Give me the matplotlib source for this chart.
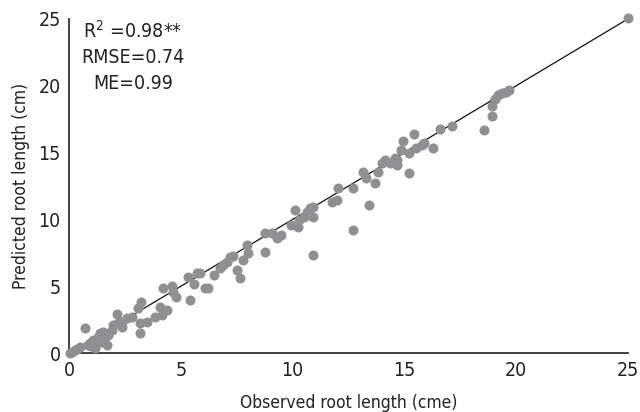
import matplotlib
matplotlib.use('Agg')
import matplotlib.pyplot as plt

observed = [0.05, 0.27, 0.5, 0.72, 0.94, 1.07, 1.16, 1.25, 1.3, 1.39, 1.48, 1.52, 1.6, 1.7,
            1.74, 1.92, 1.97, 2.15, 2.2, 2.37, 2.37, 2.6, 3.1, 3.17, 3.17, 3.2, 3.5, 3.85,
            4.07, 4.15, 4.2, 4.38, 4.6, 4.65, 4.8, 5.3, 5.4, 5.6, 5.7, 5.86, 6.1, 6.2, 6.5,
            6.75, 6.9, 7.05, 7.2, 7.35, 7.5, 7.65, 7.8, 7.95, 8.0, 8.75, 8.75, 9.08, 9.3,
            9.5, 9.95, 10.1, 10.25, 10.3, 10.5, 10.65, 10.8, 10.9, 10.9, 10.9, 11.75, 12.0,
            12.05, 12.7, 12.7, 13.15, 13.3, 13.4, 13.7, 13.8, 14.0, 14.15, 14.35, 14.6,
            14.65, 14.65, 14.85, 14.95, 15.2, 15.2, 15.45, 15.5, 15.8, 15.9, 16.3, 16.6,
            17.15, 18.55, 18.9, 18.9, 19.05, 19.2, 19.35, 19.55, 19.7, 0.15, 0.35, 0.85,
            1.0, 1.2, 1.45, 2.8, 25.0]
predicted = [0.0, 0.22, 0.45, 1.85, 0.75, 0.97, 0.37, 0.75, 1.2, 1.5, 0.82, 1.57, 1.1, 0.6,
             1.35, 1.72, 2.1, 2.9, 2.25, 1.95, 2.3, 2.6, 3.35, 2.25, 1.5, 3.8, 2.3, 2.7,
             3.45, 2.85, 4.85, 3.2, 5.0, 4.6, 4.2, 5.7, 4.0, 5.2, 6.0, 6.0, 4.85, 4.85, 5.85,
             6.35, 6.6, 6.8, 7.2, 7.3, 6.2, 5.6, 6.95, 8.1, 7.5, 7.55, 9.0, 9.0, 8.6,
             8.85, 9.6, 10.7, 9.45, 9.95, 10.2, 10.55, 10.85, 10.95, 10.2, 7.35, 11.3, 11.45,
             12.35, 12.35, 9.2, 13.55, 13.1, 11.1, 12.75, 13.55, 14.2, 14.45, 14.2, 14.6,
             14.45, 14.05, 15.2, 15.85, 15.0, 13.5, 16.4, 15.35, 15.55, 15.7, 15.35, 16.75,
             17.0, 16.7, 17.75, 18.5, 19.0, 19.3, 19.45, 19.55, 19.7, 0.1, 0.3, 0.6,
             0.5, 0.9, 1.3, 2.7, 25.1]
fit_line = [0, 25]
stats_text = ['R$^{2}$ =0.98**', 'RMSE=0.74', 'ME=0.99']

plt.rcParams['font.family'] = ['DejaVu Sans']
plt.rcParams['font.stretch'] = 'condensed'
plt.rcParams['mathtext.fontset'] = 'custom'
plt.rcParams['mathtext.rm'] = 'DejaVu Sans'

fig = plt.figure(figsize=(6.4, 4.12), dpi=100)
ax = fig.add_axes([0.108, 0.143, 0.873, 0.811])
ax.scatter(observed, predicted, s=52, color='#909092', linewidths=0, zorder=3, clip_on=False)
ax.plot(fit_line, fit_line, color='#111111', lw=0.9, zorder=2)

ax.set_xlim(0, 25)
ax.set_ylim(0, 25)
ax.set_xticks([0, 5, 10, 15, 20, 25])
ax.set_yticks([0, 5, 10, 15, 20, 25])
ax.tick_params(length=0, labelsize=14, pad=6, colors='#222222')
for side in ['top', 'right']:
    ax.spines[side].set_visible(False)
for side in ['left', 'bottom']:
    ax.spines[side].set_color('#333333')
    ax.spines[side].set_linewidth(1.3)
ax.set_xlabel('Observed root length (cme)', fontsize=12.5, labelpad=10, color='#222222')
ax.set_ylabel('Predicted root length (cm)', fontsize=12.5, labelpad=6, color='#222222')

for i, t in enumerate(stats_text):
    ax.text(2.85, 24.1 - i * 1.95, t, ha='center', va='center', fontsize=14, color='#222222')

plt.savefig('out.png', dpi=100)
plt.close()
